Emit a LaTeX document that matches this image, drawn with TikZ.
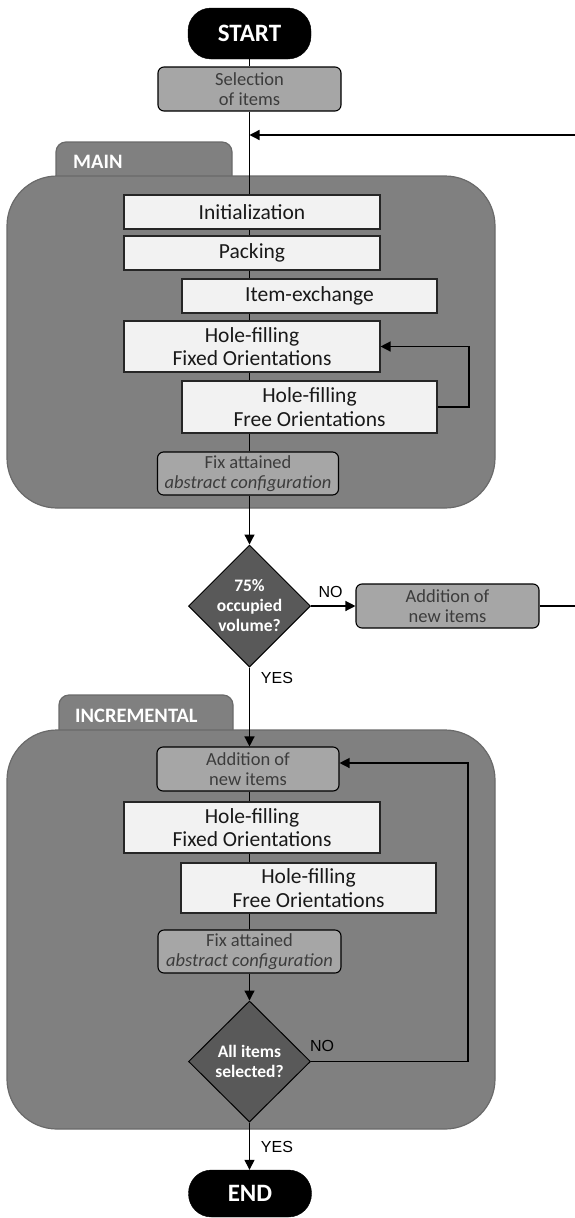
\documentclass[tikz,border=0pt]{standalone}
\usepackage{fontspec}
\setmainfont{Carlito}
\newfontfamily\arialf{Liberation Sans}
\usetikzlibrary{arrows.meta,shapes.geometric,backgrounds}
\definecolor{contfill}{HTML}{808080}
\definecolor{contline}{HTML}{6A6A6A}
\definecolor{wbox}{HTML}{F2F2F2}
\definecolor{gbox}{HTML}{A6A6A6}
\definecolor{gtext}{HTML}{3C3C3C}
\definecolor{dfill}{HTML}{595959}
\begin{document}
\begin{tikzpicture}[x=1pt,y=-1pt,
  terminal/.style={draw=black,fill=black,rounded corners=23pt,inner sep=0pt,
    minimum width=123pt,text=white,font=\fontsize{25}{28}\selectfont\bfseries},
  wstep/.style={draw=black!85,fill=wbox,line width=1.1pt,inner sep=0pt,align=center,
    text=black!90,font=\fontsize{21.5}{23.5}\selectfont},
  gstep/.style={draw=black,fill=gbox,rounded corners=6pt,line width=1.1pt,inner sep=0pt,
    align=center,text=gtext,font=\fontsize{18.5}{20.5}\selectfont},
  decision/.style={diamond,draw=black,fill=dfill,line width=1pt,inner sep=0pt,
    minimum width=122pt,minimum height=122pt,align=center,text=white,
    font=\fontsize{17.5}{20}\selectfont\bfseries},
  container/.style={fill=contfill,draw=contline,line width=1.2pt,rounded corners=50pt},
  tabshape/.style={fill=contfill,draw=contline,line width=1.2pt,rounded corners=10pt},
  tablabel/.style={text=white,font=\fontsize{20.5}{24}\selectfont\bfseries,anchor=west,inner sep=0pt},
  flow/.style={line width=1.3pt,draw=black},
  arr/.style={flow,-{Triangle[length=10pt,width=10pt]}},
  yn/.style={font=\arialf\fontsize{16}{18}\selectfont,inner sep=0pt}]
\useasboundingbox (0,0) rectangle (575,1218);
\coordinate (col) at (249.5,0);

% nodes
\node[terminal,minimum height=51pt] (start) at (249.5,33.5) {START};
\node[gstep,minimum width=183pt,minimum height=44pt] (sel) at (249.5,89) {Selection\\of items};

\node[wstep,minimum width=256pt,minimum height=34pt] (init) at (252,212) {Initialization};
\node[wstep,minimum width=256pt,minimum height=34pt] (pack) at (252,253) {Packing};
\node[wstep,minimum width=255pt,minimum height=34pt] (ix) at (309.5,296) {Item-exchange};
\node[wstep,minimum width=256pt,minimum height=51pt] (fixed1) at (252,346.5) {Hole-filling\\Fixed Orientations};
\node[wstep,minimum width=255pt,minimum height=52pt] (free1) at (309.5,407) {Hole-filling\\Free Orientations};
\node[gstep,minimum width=181pt,minimum height=43pt] (fix1) at (248,473.5) {Fix attained\\\textit{abstract configuration}};

\node[decision] (d1) at (249.5,606) {75\%\\occupied\\volume?};
\node[gstep,minimum width=183pt,minimum height=44pt] (add1) at (447.5,606) {Addition of\\new items};
\node[yn] (no1) at (330.5,592) {NO};
\node[yn] (yes1) at (277,678) {YES};

\node[gstep,minimum width=182pt,minimum height=44pt] (add2) at (248,769) {Addition of\\new items};
\node[wstep,minimum width=256pt,minimum height=51pt] (fixed2) at (252,827.5) {Hole-filling\\Fixed Orientations};
\node[wstep,minimum width=255pt,minimum height=50pt] (free2) at (308.5,888) {Hole-filling\\Free Orientations};
\node[gstep,minimum width=183pt,minimum height=43pt] (fix2) at (249.5,951.5) {Fix attained\\\textit{abstract configuration}};
\node[decision,minimum height=121pt] (d2) at (249.5,1061.5) {All items\\selected?};
\node[yn] (no2) at (322,1046) {NO};
\node[yn] (yes2) at (277,1147) {YES};
\node[terminal,minimum height=47pt] (stop) at (250,1193.5) {END};

% containers
\begin{scope}[on background layer]
  \fill[white] (0,0) rectangle (575,1218);
  \path[tabshape] (56,142) rectangle (232,200);
  \path[container] (7,176) rectangle (495,508);
  \path[tabshape] (59,695) rectangle (233,750);
  \path[container] (7,730) rectangle (495,1129);
\end{scope}
\node[tablabel] (mainlbl) at (73,162) {MAIN};
\node[tablabel] (inclbl) at (75,716) {INCREMENTAL};

% coordinates
\coordinate (join1) at (249.5,135);
\coordinate (edgeA) at (575,135);
\coordinate (edgeB) at (575,606);
\coordinate (loop1) at (469,0);
\coordinate (loop2) at (468,0);

% connectors
\draw[flow] (start.south -| col) -- (sel.north -| col);
\draw[flow] (sel.south -| col) -- (init.north -| col);
\draw[arr] (edgeA) -- (join1);
\draw[flow] (init.south -| col) -- (pack.north -| col);
\draw[flow] (pack.south -| col) -- (ix.north -| col);
\draw[flow] (ix.south -| col) -- (fixed1.north -| col);
\draw[flow] (fixed1.south -| col) -- (free1.north -| col);
\draw[arr] (free1.east) -- (free1.east -| loop1) -- (fixed1.east -| loop1) -- (fixed1.east);
\draw[flow] (free1.south -| col) -- (fix1.north -| col);
\draw[arr] (fix1.south -| col) -- (d1.north);
\draw[arr] (d1.east) -- (add1.west);
\draw[flow] (add1.east) -- (edgeB);
\draw[arr] (d1.south) -- (add2.north -| col);
\draw[flow] (add2.south -| col) -- (fixed2.north -| col);
\draw[flow] (fixed2.south -| col) -- (free2.north -| col);
\draw[flow] (free2.south -| col) -- (fix2.north -| col);
\draw[arr] (fix2.south -| col) -- (d2.north);
\draw[arr] (d2.east) -- (d2.east -| loop2) -- ([yshift=6pt]add2.east -| loop2) -- ([yshift=6pt]add2.east);
\draw[arr] (d2.south) -- (stop.north -| col);
\end{tikzpicture}
\end{document}
